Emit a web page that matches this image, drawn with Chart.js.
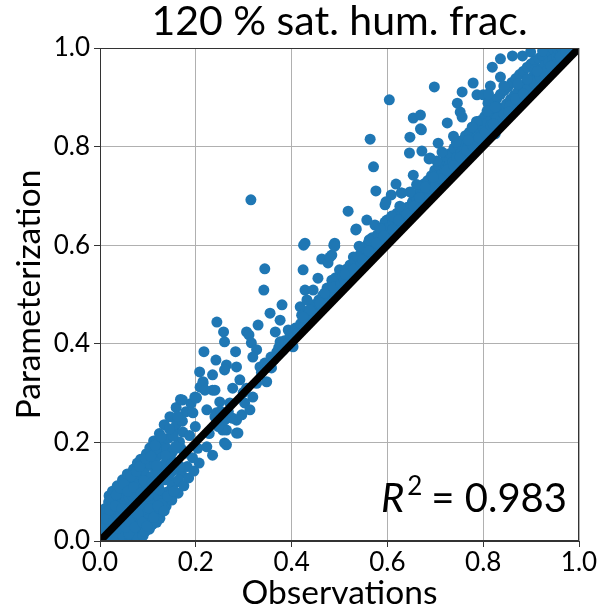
<!DOCTYPE html>
<html>
<head>
<meta charset="utf-8">
<script src="https://cdn.jsdelivr.net/npm/chart.js@4.4.1/dist/chart.umd.min.js"></script>
<style>
  html, body { margin: 0; padding: 0; background: #fff; }
  #wrap { width: 600px; height: 610px; }
</style>
</head>
<body>
<div id="wrap"><canvas id="scatterChart" width="600" height="610"></canvas></div>
<script>
const blobPoints = [
  [0.000,0.030],[0.001,0.015],[0.002,0.048],[0.001,0.060],[0.003,0.004],[0.006,0.021],[0.004,0.038],[0.008,0.052],[0.012,0.011],[0.015,0.033],
  [0.011,0.066],[0.018,0.079],[0.021,0.004],[0.024,0.047],[0.019,0.092],[0.027,0.021],[0.029,0.068],[0.026,0.101],[0.009,0.003],[0.014,0.058],
  [0.022,0.031],[0.031,0.052],[0.033,0.006],[0.035,0.036],[0.038,0.083],[0.036,0.112],[0.041,0.017],[0.043,0.057],[0.045,0.098],[0.047,0.124],
  [0.049,0.004],[0.051,0.074],[0.053,0.041],[0.055,0.109],[0.057,0.136],[0.058,0.022],[0.039,0.003],[0.044,0.081],[0.048,0.029],[0.052,0.091],
  [0.056,0.008],[0.059,0.064],[0.061,0.088],[0.062,0.057],[0.064,0.003],[0.066,0.121],[0.068,0.035],[0.070,0.146],[0.071,0.072],[0.073,0.013],
  [0.075,0.101],[0.077,0.052],[0.078,0.158],[0.080,0.128],[0.082,0.027],[0.083,0.085],[0.063,0.108],[0.067,0.019],[0.069,0.089],[0.072,0.131],
  [0.074,0.043],[0.076,0.076],[0.079,0.004],[0.081,0.113],[0.084,0.047],[0.086,0.138],[0.088,0.024],[0.085,0.166],[0.087,0.061],[0.089,0.112],
  [0.090,0.011],[0.092,0.142],[0.094,0.039],[0.096,0.094],[0.097,0.177],[0.099,0.071],[0.101,0.124],[0.103,0.024],[0.104,0.189],[0.106,0.153],
  [0.108,0.052],[0.110,0.101],[0.091,0.079],[0.093,0.161],[0.095,0.057],[0.098,0.109],[0.100,0.044],[0.102,0.157],[0.105,0.087],[0.107,0.131],
  [0.109,0.033],[0.112,0.203],[0.114,0.079],[0.116,0.137],[0.118,0.038],[0.120,0.172],[0.122,0.112],[0.124,0.218],[0.126,0.061],[0.128,0.147],
  [0.130,0.192],[0.132,0.088],[0.134,0.236],[0.136,0.124],[0.138,0.071],[0.140,0.166],[0.113,0.162],[0.115,0.058],[0.119,0.093],[0.121,0.141],
  [0.125,0.046],[0.127,0.181],[0.129,0.076],[0.133,0.154],[0.135,0.204],[0.137,0.098],[0.139,0.188],[0.142,0.208],[0.144,0.101],[0.146,0.252],
  [0.148,0.139],[0.150,0.083],[0.152,0.182],[0.155,0.226],[0.157,0.118],[0.159,0.271],[0.161,0.158],[0.163,0.097],[0.166,0.201],[0.168,0.287],
  [0.170,0.137],[0.143,0.128],[0.147,0.171],[0.151,0.112],[0.153,0.213],[0.156,0.146],[0.160,0.238],[0.164,0.124],[0.169,0.188],[0.173,0.221],
  [0.172,0.243],[0.175,0.112],[0.177,0.178],[0.179,0.262],[0.182,0.151],[0.185,0.128],[0.187,0.214],[0.190,0.279],[0.193,0.169],[0.196,0.142],
  [0.199,0.232],[0.201,0.291],[0.204,0.188],[0.207,0.158],[0.209,0.312],[0.172,0.286],[0.198,0.292],[0.208,0.343],[0.215,0.323],[0.235,0.337],
  [0.194,0.260],[0.016,0.005],[0.024,0.013],[0.030,0.085],[0.046,0.012],[0.060,0.014],[0.065,0.046],[0.079,0.068],[0.094,0.019],[0.117,0.187],
  [0.005,0.010],[0.010,0.027],[0.013,0.045],[0.017,0.018],[0.020,0.063],[0.023,0.084],[0.025,0.009],[0.028,0.038],[0.032,0.071],[0.034,0.094],
  [0.037,0.026],[0.040,0.047],[0.042,0.108],[0.046,0.066],[0.050,0.115],[0.054,0.028],[0.058,0.101],[0.060,0.041],[0.065,0.132],[0.068,0.062],
  [0.070,0.109],[0.073,0.028],[0.076,0.141],[0.080,0.055],[0.083,0.151],[0.086,0.098],[0.089,0.038],[0.092,0.122],[0.095,0.167],[0.098,0.030],
  [0.101,0.091],[0.104,0.066],[0.106,0.172],[0.109,0.118],[0.112,0.048],[0.115,0.194],[0.118,0.153],[0.121,0.071],[0.124,0.104],[0.128,0.211],
  [0.131,0.135],[0.134,0.061],[0.137,0.173],[0.141,0.091],[0.145,0.227],[0.149,0.156],[0.154,0.101],[0.158,0.192],[0.162,0.253],[0.167,0.151]
];

const midPoints = [
  [0.201,0.290],[0.215,0.312],[0.285,0.219],[0.260,0.199],[0.264,0.225],[0.235,0.174],[0.243,0.260],[0.285,0.245],[0.235,0.306],[0.327,0.320],
  [0.244,0.444],[0.258,0.424],[0.260,0.404],[0.217,0.384],[0.242,0.367],[0.264,0.357],[0.260,0.347],[0.283,0.384],[0.285,0.353],[0.306,0.424],
  [0.311,0.418],[0.330,0.438],[0.316,0.402],[0.327,0.388],[0.319,0.373],[0.334,0.353],[0.292,0.327],[0.306,0.310],[0.319,0.292],[0.348,0.323],
  [0.358,0.351],[0.355,0.462],[0.376,0.448],[0.366,0.424],[0.393,0.428],[0.376,0.404],[0.390,0.404],[0.380,0.479],[0.418,0.475],[0.421,0.458],
  [0.438,0.458],[0.452,0.473],[0.403,0.394],[0.215,0.320],[0.219,0.306],[0.240,0.306],[0.250,0.282],[0.223,0.266],[0.240,0.252],[0.260,0.245],
  [0.277,0.249],[0.296,0.256],[0.288,0.219],[0.256,0.225],[0.264,0.195],[0.223,0.191],[0.271,0.280],[0.302,0.280],[0.313,0.266],[0.277,0.310],
  [0.315,0.692],[0.344,0.552],[0.342,0.509],[0.425,0.600],[0.488,0.600],[0.228,0.218],[0.247,0.232],[0.252,0.263],[0.268,0.262],[0.299,0.301],
  [0.337,0.342],[0.344,0.361],[0.351,0.357],[0.357,0.373],[0.363,0.368],[0.369,0.383],[0.373,0.392],[0.382,0.387],[0.385,0.406],[0.394,0.401],
  [0.397,0.418],[0.405,0.413],[0.408,0.432],[0.414,0.423],[0.419,0.441],[0.426,0.436],[0.429,0.452],[0.434,0.447],[0.436,0.468],[0.443,0.456],
  [0.446,0.479],[0.452,0.462],[0.457,0.489],[0.462,0.477],[0.465,0.498],[0.471,0.486],[0.474,0.513],[0.478,0.494],[0.485,0.522],[0.489,0.503],
  [0.492,0.534],[0.498,0.513],[0.518,0.669],[0.557,0.651],[0.534,0.631],[0.574,0.641],[0.579,0.621],[0.568,0.615],[0.560,0.604],[0.578,0.600],
  [0.490,0.604],[0.428,0.604],[0.484,0.580],[0.463,0.572],[0.476,0.564],[0.529,0.576],[0.522,0.560],[0.549,0.584],[0.500,0.550],[0.515,0.546],
  [0.424,0.550],[0.455,0.533],[0.484,0.529],[0.428,0.509],[0.445,0.509],[0.469,0.503],[0.487,0.515],[0.432,0.489],[0.459,0.483],[0.438,0.469],
  [0.424,0.454],[0.595,0.682],[0.620,0.665],[0.633,0.671],[0.652,0.686],[0.599,0.651],[0.604,0.895],[0.564,0.815],[0.571,0.759],[0.576,0.710],
  [0.669,0.836],[0.687,0.775],[0.618,0.724],[0.608,0.702],[0.629,0.706],[0.597,0.688],[0.535,0.633],[0.595,0.647],[0.490,0.598],[0.480,0.576]
];

const bandPoints = [
  [0.503,0.522],[0.507,0.538],[0.510,0.529],[0.514,0.551],[0.518,0.535],[0.524,0.559],[0.526,0.546],[0.532,0.568],[0.536,0.551],[0.538,0.577],
  [0.544,0.560],[0.546,0.586],[0.552,0.568],[0.554,0.592],[0.558,0.577],[0.564,0.597],[0.566,0.584],[0.572,0.607],[0.574,0.591],[0.580,0.616],
  [0.582,0.601],[0.588,0.622],[0.590,0.606],[0.594,0.633],[0.598,0.616],[0.604,0.637],[0.606,0.621],[0.612,0.647],[0.614,0.628],[0.618,0.656],
  [0.622,0.638],[0.628,0.662],[0.630,0.644],[0.636,0.668],[0.638,0.651],[0.642,0.677],[0.646,0.661],[0.541,0.598],[0.562,0.611],[0.585,0.634],
  [0.609,0.659],[0.626,0.679],[0.651,0.668],[0.653,0.689],[0.657,0.701],[0.659,0.674],[0.662,0.692],[0.665,0.681],[0.668,0.712],[0.671,0.688],
  [0.673,0.703],[0.676,0.724],[0.678,0.694],[0.681,0.709],[0.684,0.731],[0.686,0.701],[0.689,0.718],[0.692,0.741],[0.694,0.708],[0.697,0.726],
  [0.699,0.752],[0.702,0.716],[0.705,0.735],[0.707,0.761],[0.710,0.724],[0.713,0.744],[0.715,0.768],[0.718,0.731],[0.721,0.753],[0.723,0.779],
  [0.726,0.739],[0.729,0.762],[0.731,0.786],[0.734,0.747],[0.737,0.769],[0.739,0.797],[0.742,0.755],[0.745,0.778],[0.747,0.804],[0.750,0.762],
  [0.753,0.786],[0.755,0.812],[0.758,0.771],[0.761,0.794],[0.763,0.822],[0.766,0.778],[0.769,0.801],[0.771,0.829],[0.774,0.786],[0.777,0.809],
  [0.779,0.838],[0.782,0.794],[0.785,0.817],[0.787,0.846],[0.790,0.802],[0.793,0.826],[0.795,0.853],[0.798,0.811],[0.801,0.834],[0.803,0.861],
  [0.806,0.818],[0.809,0.848],[0.812,0.873],[0.814,0.826],[0.817,0.856],[0.820,0.889],[0.822,0.834],[0.825,0.864],[0.828,0.897],[0.830,0.842],
  [0.833,0.872],[0.836,0.906],[0.838,0.851],[0.841,0.879],[0.844,0.914],[0.846,0.858],[0.849,0.887],[0.852,0.921],[0.854,0.866],[0.857,0.896],
  [0.860,0.930],[0.862,0.874],[0.865,0.904],[0.868,0.938],[0.870,0.882],[0.873,0.912],[0.876,0.946],[0.878,0.890],[0.881,0.920],[0.884,0.953],
  [0.886,0.898],[0.889,0.928],[0.892,0.961],[0.894,0.905],[0.897,0.936],[0.900,0.968],[0.902,0.913],[0.905,0.944],[0.908,0.974],[0.910,0.921],
  [0.913,0.951],[0.916,0.979],[0.918,0.929],[0.921,0.958],[0.924,0.985],[0.926,0.937],[0.929,0.965],[0.932,0.989],[0.934,0.945],[0.937,0.971],
  [0.940,0.993],[0.942,0.953],[0.945,0.977],[0.948,0.996],[0.950,0.961],[0.953,0.982],[0.956,0.998],[0.958,0.969],[0.961,0.987],[0.964,1.000],
  [0.966,0.977],[0.969,0.991],[0.972,0.999],[0.974,0.984],[0.977,0.995],[0.980,1.000],[0.982,0.990],[0.985,0.998],[0.988,1.000],[0.990,0.996],
  [0.993,1.000],[0.996,0.999],[0.999,1.000],
  [0.512,0.541],[0.529,0.551],[0.548,0.571],[0.561,0.588],[0.577,0.604],[0.593,0.619],[0.611,0.632],[0.624,0.651],[0.641,0.663],[0.655,0.679],
  [0.667,0.697],[0.683,0.716],[0.696,0.719],[0.711,0.735],[0.724,0.752],[0.738,0.761],[0.752,0.779],[0.765,0.792],[0.778,0.801],[0.791,0.818],
  [0.804,0.829],[0.816,0.843],[0.829,0.858],[0.843,0.866],[0.856,0.883],[0.869,0.894],[0.881,0.904],[0.893,0.918],[0.906,0.929],[0.919,0.941],
  [0.931,0.953],[0.944,0.964],[0.957,0.975],[0.968,0.984],[0.979,0.991],[0.661,0.723],[0.703,0.771],[0.744,0.809],[0.786,0.851],[0.827,0.881],
  [0.872,0.927],[0.908,0.956]
];

const upperPoints = [
  [0.779,0.929],[0.698,0.921],[0.756,0.911],[0.787,0.905],[0.746,0.888],[0.752,0.870],[0.756,0.860],[0.654,0.858],[0.669,0.864],[0.671,0.834],
  [0.725,0.848],[0.647,0.819],[0.738,0.821],[0.706,0.807],[0.646,0.787],[0.672,0.791],[0.689,0.777],[0.714,0.789],[0.654,0.742],[0.647,0.708],
  [0.630,0.706],[0.679,0.718],[0.696,0.738],[0.800,0.905],[0.810,0.888],[0.777,0.840],[0.769,0.813],[0.819,0.961],[0.836,0.978],[0.861,0.984],
  [0.882,0.984],[0.899,0.992],[0.924,0.994],[0.815,0.923],[0.811,0.907],[0.836,0.941],[0.843,0.923],[0.808,0.872],[0.825,0.880],[0.853,0.870],
  [0.868,0.897],[0.884,0.907],[0.892,0.937],[0.913,0.953],[0.930,0.941],[0.941,0.963],[0.961,0.982],[0.972,0.992],[0.821,0.846],[0.825,0.826]
];

const identityLine = [0, 1];
const tickValues = [0, 0.2, 0.4, 0.6, 0.8, 1.0];
const r2Value = '0.983';

const toXY = p => ({ x: p[0], y: p[1] });
const allPoints = [].concat(blobPoints, midPoints, bandPoints, upperPoints).map(toXY);

// matplotlib-like closed frame
const framePlugin = {
  id: 'frame',
  afterDraw(chart) {
    const a = chart.chartArea, c = chart.ctx;
    c.save();
    c.strokeStyle = '#333';
    c.lineWidth = 1;
    c.strokeRect(a.left + 0.5, a.top + 0.5, a.right - a.left - 1, a.bottom - a.top - 1);
    c.restore();
  }
};

// R^2 note in lower right corner
const r2Plugin = {
  id: 'r2',
  afterDraw(chart) {
    const a = chart.chartArea, c = chart.ctx;
    const base = a.bottom - 29;
    c.save();
    c.fillStyle = '#000';
    c.textBaseline = 'alphabetic';
    c.font = '40px Lato';
    const rest = '= ' + r2Value;
    const restW = c.measureText(rest).width;
    c.font = '26px Lato';
    const supW = c.measureText('2').width;
    c.font = 'italic 40px Lato';
    const rW = c.measureText('R').width;
    const gap = 9;
    let x = a.right - 12 - restW - gap - supW - 3 - rW;
    c.fillText('R', x, base);
    x += rW + 3;
    c.font = '26px Lato';
    c.fillText('2', x, base - 17);
    x += supW + gap;
    c.font = '40px Lato';
    c.fillText(rest, x, base);
    c.restore();
  }
};

function draw() {
  const ctx = document.getElementById('scatterChart').getContext('2d');
  new Chart(ctx, {
    data: {
      datasets: [
        {
          type: 'line',
          data: identityLine.map(v => ({ x: v, y: v })),
          borderColor: '#000',
          borderWidth: 7.5,
          pointRadius: 0,
          order: 0
        },
        {
          type: 'scatter',
          data: allPoints,
          backgroundColor: '#1f77b4',
          borderWidth: 0,
          pointRadius: 5.5,
          order: 1
        }
      ]
    },
    options: {
      responsive: false,
      animation: false,
      layout: { padding: { left: 0, right: 21, top: 0, bottom: 0 } },
      plugins: {
        legend: { display: false },
        tooltip: { enabled: false },
        title: {
          display: true,
          text: '120 % sat. hum. frac.',
          fullSize: false,
          color: '#000',
          font: { family: 'Lato', size: 41, weight: 'normal', lineHeight: 1 },
          padding: { top: 1, bottom: 6 }
        }
      },
      scales: {
        x: {
          type: 'linear',
          min: 0, max: 1,
          afterBuildTicks: s => { s.ticks = tickValues.map(v => ({ value: v })); },
          ticks: { callback: v => v.toFixed(1), color: '#000', font: { family: 'Lato', size: 26 }, padding: 0, maxRotation: 0 },
          grid: { color: '#b0b0b0', tickColor: '#333', tickLength: 6 },
          border: { color: '#333' },
          title: { display: true, text: 'Observations', color: '#000', font: { family: 'Lato', size: 33.5, lineHeight: 1 }, padding: 0 },
          afterFit: s => { s.height = 69; }
        },
        y: {
          type: 'linear',
          min: 0, max: 1,
          afterBuildTicks: s => { s.ticks = tickValues.map(v => ({ value: v })); },
          ticks: { callback: v => v.toFixed(1), color: '#000', font: { family: 'Lato', size: 26 }, padding: 4 },
          grid: { color: '#b0b0b0', tickColor: '#333', tickLength: 6 },
          border: { color: '#333' },
          title: { display: true, text: 'Parameterization', color: '#000', font: { family: 'Lato', size: 33.5, lineHeight: 1 }, padding: { top: 12, bottom: 0 } },
          afterFit: s => { s.width = 100; }
        }
      }
    },
    plugins: [framePlugin, r2Plugin]
  });
}

document.fonts.load('22px Lato').then(draw, draw);
</script>
</body>
</html>
